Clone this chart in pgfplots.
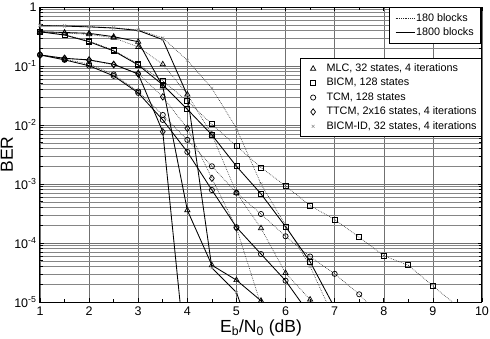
\documentclass[border=0pt]{standalone}
\usepackage{fontspec}
\setmainfont{Liberation Sans}
\usepackage{pgfplots}
\pgfplotsset{compat=1.18}

\pgfplotsset{
  long/.style={black, line width=0.85pt, solid},
  short/.style={black!85, line width=0.6pt, dash pattern=on 0.7pt off 1.1pt},
  mk/.style={mark options={solid, black, line width=0.7pt, fill=none}},
  mkx/.style={mark options={solid, black!45, line width=0.5pt}},
  markimage/.style={legend image code/.code={%
    \path (-4pt,0pt) (16pt,0pt);
    \draw[##1, only marks] plot coordinates {(4pt,0pt)};}},
}

\begin{document}
\begin{tikzpicture}[x=1pt,y=1pt]
\useasboundingbox (-40,-36) rectangle (450,302);
\begin{semilogyaxis}[
  at={(0,0)}, anchor=south west,
  scale only axis, width=442pt, height=295pt,
  xmin=1, xmax=10, ymin=1e-5, ymax=1,
  xtick={1,2,3,4,5,6,7,8,9,10},
  xticklabels={1,2,3,4,5,6,7,8,9,10},
  minor x tick num=1,
  ytick={1e-5,1e-4,1e-3,1e-2,1e-1,1},
  yticklabels={10\textsuperscript{-5},10\textsuperscript{-4},10\textsuperscript{-3},10\textsuperscript{-2},10\textsuperscript{-1},1},
  xmajorgrids, ymajorgrids, yminorgrids,
  major grid style={black!56, line width=0.55pt},
  minor grid style={black!48, line width=0.5pt},
  axis line style={line width=1pt},
  tick style={black, line width=0.6pt},
  major tick length=4pt, minor tick length=3pt,
  tick align=inside,
  ticklabel style={font=\fontsize{12.5}{14}\selectfont},
  xticklabel style={yshift=-1pt},
  xlabel={E\textsubscript{b}/N\textsubscript{0} (dB)},
  ylabel={BER},
  label style={font=\fontsize{17.5}{20}\selectfont},
  xlabel style={at={(axis description cs:0.5,0)}, anchor=center, yshift=-26pt},
  ylabel style={at={(axis description cs:-0.075,0.5)}, anchor=center},
  legend cell align=left,
  legend style={at={(1,0.826)}, anchor=north east, draw=black, line width=0.8pt,
    fill=white, font=\fontsize{10.8}{12}\selectfont,
    nodes={inner sep=1pt, text height=7.8pt, text depth=2.2pt},
    row sep=2.4pt, inner xsep=4pt, inner ysep=4pt},
]
% 180 blocks (dotted)
\addplot[short, mk, mark=triangle, mark size=3pt, forget plot] coordinates {
  (1,0.38) (1.5,0.36) (2,0.345) (2.5,0.30) (3,0.21) (3.5,0.107) (4,0.033)
  (4.5,0.0069) (5,7.1e-4) (5.5,1.78e-4) (6,3.1e-5) (6.5,1.1e-5) (7,3e-6)};
\addplot[short, mk, mark=square, mark size=2.5pt, forget plot] coordinates {
  (1,0.38) (1.5,0.34) (2,0.265) (2.5,0.185) (3,0.108) (3.5,0.056) (4,0.0255)
  (4.5,0.0103) (5,0.0044) (5.5,0.0019) (6,9.3e-4) (6.5,4.3e-4) (7,2.5e-4)
  (7.5,1.25e-4) (8,6.1e-5) (8.5,4.2e-5) (9,1.87e-5) (9.5,8.5e-6)};
\addplot[short, mk, mark=o, mark size=2.6pt, forget plot] coordinates {
  (1,0.155) (1.5,0.13) (2,0.108) (2.5,0.072) (3,0.037) (3.5,0.0148) (4,0.0056)
  (4.5,0.002) (5,7.1e-4) (5.5,3.1e-4) (6,1.3e-4) (6.5,5.9e-5) (7,3.0e-5)
  (7.5,1.35e-5) (8,5e-6)};
\addplot[short, mk, mark=diamond, mark size=3.2pt, forget plot] coordinates {
  (1,0.154) (1.5,0.135) (2,0.125) (2.5,0.105) (3,0.075) (3.5,0.030) (4,0.0088)
  (4.5,0.00125) (5,1.8e-4) (5.5,9e-6)};
\addplot[short, mkx, mark=x, mark size=2pt, forget plot] coordinates {
  (1,0.49) (1.5,0.48) (2,0.465) (2.5,0.445) (3,0.41) (3.5,0.30) (4,0.125)
  (4.5,0.042) (5,0.0088) (5.5,0.001) (6,2e-4) (6.5,4e-5) (7,5e-6)};
% 1800 blocks (solid)
\addplot[long, mk, mark=triangle, mark size=3pt, forget plot] coordinates {
  (1,0.38) (1.5,0.37) (2,0.358) (2.5,0.314) (3,0.258) (3.5,0.045) (4,3.6e-4)
  (4.5,4.2e-5) (5,2.35e-5) (5.5,1.05e-5) (6,3e-6)};
\addplot[long, mk, mark=square, mark size=2.5pt, forget plot] coordinates {
  (1,0.38) (1.5,0.335) (2,0.258) (2.5,0.18) (3,0.104) (3.5,0.048) (4,0.0185)
  (4.5,0.0068) (5,0.002) (5.5,6.8e-4) (6,1.9e-4) (6.5,4.8e-5) (7,8e-6)};
\addplot[long, mk, mark=o, mark size=2.6pt, forget plot] coordinates {
  (1,0.154) (1.5,0.127) (2,0.101) (2.5,0.068) (3,0.035) (3.5,0.0122) (4,0.0035)
  (4.5,7.9e-4) (5,1.85e-4) (5.5,6.5e-5) (6,2.3e-5) (6.5,6e-6)};
\addplot[long, mk, mark=diamond, mark size=3.2pt, forget plot] coordinates {
  (1,0.154) (1.5,0.135) (2,0.127) (2.5,0.107) (3,0.073) (3.5,0.0077) (4,6e-7)};
\addplot[long, mkx, mark=x, mark size=2pt, forget plot] coordinates {
  (1,0.48) (1.5,0.475) (2,0.46) (2.5,0.44) (3,0.40) (3.5,0.28) (4,0.032)
  (4.5,3.8e-5) (5,1.45e-5) (5.5,1e-6)};
% marker legend
\addlegendimage{markimage, mk, mark=triangle, mark size=3pt}
\addlegendentry{MLC, 32 states, 4 iterations}
\addlegendimage{markimage, mk, mark=square, mark size=2.5pt}
\addlegendentry{BICM, 128 states}
\addlegendimage{markimage, mk, mark=o, mark size=2.6pt}
\addlegendentry{TCM, 128 states}
\addlegendimage{markimage, mk, mark=diamond, mark size=3.2pt}
\addlegendentry{TTCM, 2x16 states, 4 iterations}
\addlegendimage{markimage, mkx, mark=x, mark size=2pt}
\addlegendentry{BICM-ID, 32 states, 4 iterations}
\end{semilogyaxis}
% line-style legend
\begin{axis}[
  at={(0,0)}, anchor=south west,
  scale only axis, width=442pt, height=295pt,
  hide axis, xmin=0, xmax=1, ymin=0, ymax=1,
  legend cell align=left,
  legend style={at={(0.998,0.999)}, anchor=north east, draw=black, line width=0.8pt,
    fill=white, font=\fontsize{10.8}{12}\selectfont,
    nodes={inner sep=1pt, text height=7.8pt, text depth=2.2pt},
    row sep=2pt, inner xsep=6pt, inner ysep=5pt},
  legend image code/.code={\draw[#1] (0pt,0pt) -- (19pt,0pt);},
]
\addlegendimage{short}
\addlegendentry{180 blocks}
\addlegendimage{long}
\addlegendentry{1800 blocks}
\end{axis}
\end{tikzpicture}
\end{document}
